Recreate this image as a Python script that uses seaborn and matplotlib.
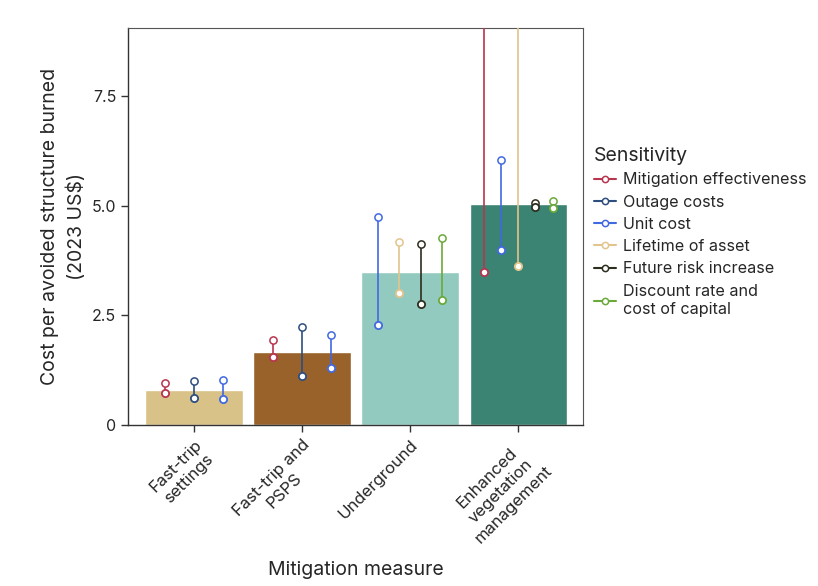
import matplotlib
matplotlib.use("Agg")
import matplotlib.pyplot as plt
from matplotlib.lines import Line2D
import seaborn as sns
import numpy as np
import pandas as pd

# ---- data ----
categories = ["Fast-trip\nsettings", "Fast-trip and\nPSPS", "Underground",
              "Enhanced\nvegetation\nmanagement"]
bar_values = [0.80, 1.66, 3.49, 5.04]
bar_colors = ["#D8C287", "#9A622B", "#93CAC0", "#3B8372"]

series = ["Mitigation effectiveness", "Outage costs", "Unit cost",
          "Lifetime of asset", "Future risk increase",
          "Discount rate and\ncost of capital"]
series_colors = ["#B8354F", "#2D4E7F", "#4169E1", "#E2C48C", "#2E2E1E", "#6AAA3A"]

# low / high per series per category (None = not present)
low = {
    "Mitigation effectiveness": [0.74, 1.54, None, 3.48],
    "Outage costs":             [0.62, 1.11, None, None],
    "Unit cost":                [0.59, 1.29, 2.28, 4.00],
    "Lifetime of asset":        [None, None, 3.02, 3.62],
    "Future risk increase":     [None, None, 2.77, 4.96],
    "Discount rate and\ncost of capital": [None, None, 2.84, 4.94],
}
high = {
    "Mitigation effectiveness": [0.95, 1.94, None, 12.0],
    "Outage costs":             [1.00, 2.24, None, None],
    "Unit cost":                [1.03, 2.05, 4.75, 6.03],
    "Lifetime of asset":        [None, None, 4.17, 11.0],
    "Future risk increase":     [None, None, 4.12, 5.05],
    "Discount rate and\ncost of capital": [None, None, 4.27, 5.11],
}

yticks = [0, 2.5, 5.0, 7.5]
yticklabels = ["0", "2.5", "5.0", "7.5"]

# ---- plot ----
sns.set_theme(style="white")
plt.rcParams["font.family"] = ["Inter", "DejaVu Sans"]

fig = plt.figure(figsize=(8.18, 5.86), dpi=100)
ax = fig.add_axes([0.1565, 0.2747, 0.7127 - 0.1565, 0.9522 - 0.2747])

df = pd.DataFrame({"cat": categories, "val": bar_values})
sns.barplot(data=df, x="cat", y="val", hue="cat", palette=bar_colors,
            saturation=1, width=0.9, legend=False, ax=ax, zorder=1)

dodge_width = 0.8
for ci in range(len(categories)):
    present = [s for s in series if low[s][ci] is not None]
    n = len(present)
    for k, s in enumerate(present):
        col = series_colors[series.index(s)]
        x = ci + (k - (n - 1) / 2) * dodge_width / n
        lo, hi = low[s][ci], high[s][ci]
        ax.plot([x, x], [lo, hi], color=col, lw=1.2, zorder=3)
        ax.plot([x], [hi], marker="o", ms=5.2, mfc="white", mec=col, mew=1.1,
                zorder=4, clip_on=True)
        ax.plot([x], [lo], marker="o", ms=5.2, mfc="white", mec=col, mew=1.3,
                zorder=4, clip_on=True)

ax.set_xlim(-0.61, 3.6)
ax.set_ylim(0, 9.05)
ax.set_yticks(yticks)
ax.set_yticklabels(yticklabels, fontsize=11.5)
ax.set_xticks(range(len(categories)))
ax.set_xticklabels(categories, rotation=45, ha="right", va="top",
                   rotation_mode="anchor", multialignment="center",
                   fontsize=12, linespacing=1.3)
ax.set_xlabel("Mitigation measure", fontsize=14, labelpad=11)
ax.set_ylabel("Cost per avoided structure burned\n(2023 US$)", fontsize=14,
              labelpad=4, linespacing=1.5)
ax.tick_params(axis="both", which="both", length=5, width=1, color="#333333",
               direction="out", left=True, bottom=True)
for sp in ["left", "bottom"]:
    ax.spines[sp].set_color("#333333")
    ax.spines[sp].set_linewidth(1.0)
for sp in ["top", "right"]:
    ax.spines[sp].set_color("#555555")
    ax.spines[sp].set_linewidth(0.8)

handles = [Line2D([0], [0], color=c, lw=1.5, marker="o", ms=4.5, mfc="white",
                  mec=c, mew=1.1) for c in series_colors]
leg = fig.legend(handles, series, title="Sensitivity", loc="upper left",
                 bbox_to_anchor=(0.718, 0.760), frameon=False, fontsize=11.6,
                 title_fontsize=14, handlelength=1.4, handletextpad=0.4,
                 labelspacing=0.45, borderaxespad=0)
leg._legend_box.align = "left"
for t in leg.get_texts():
    t.set_linespacing(1.3)

fig.savefig("out.png", dpi=100)
